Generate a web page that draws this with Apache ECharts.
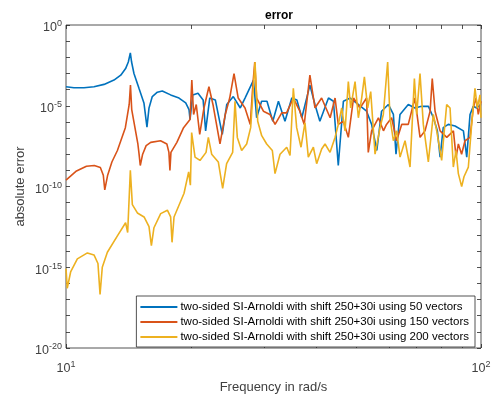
<!DOCTYPE html>
<html>
<head>
<meta charset="utf-8">
<script src="https://cdn.jsdelivr.net/npm/echarts@6/dist/echarts.min.js"></script>
<style>
  html, body { margin: 0; padding: 0; background: #fff; }
  #chart { width: 495px; height: 399px; }
</style>
</head>
<body>
<div id="chart"></div>
<script>
// Absolute error of the reduced models against frequency (rad/s)
const freq50 = [10.0, 10.45, 11.05, 11.68, 12.35, 13.05, 13.55, 13.92, 14.13, 14.29, 14.39, 14.58, 14.99, 15.41, 15.67, 15.85, 16.14, 16.60, 17.06, 17.87, 18.72, 19.43, 19.79, 19.90,
  20.2, 20.8, 21.4, 21.7, 22.2, 22.9, 23.8, 24.4, 25.3, 26.3, 27.0, 28.3, 28.8, 29.6, 30.5, 31.5, 32.5, 33.7, 35.0, 36.0, 37.0, 38.7, 39.8, 40.9, 42.9, 44.1, 45.3, 46.6, 48.4, 50.6, 53.0, 54.5, 56.1, 57.6, 59.8, 61.5, 62.4, 63.8, 66.8, 69.3, 71.9, 74.7, 76.8, 78.5, 79.7, 81.1, 83.4, 86.6, 90.7, 92.4, 94.1, 95.8, 97.6, 100];
const err50 = [1.5e-4, 1.3e-4, 1.3e-4, 1.5e-4, 2.1e-4, 3.9e-4, 7.8e-4, 2.0e-3, 5.1e-3, 1.9e-2, 5.1e-3, 9.9e-4, 1.2e-4, 1.5e-5, 4.8e-7, 7.3e-6, 3.7e-5, 6.9e-5, 8.3e-5, 4.7e-5, 3.0e-5, 1.5e-5, 5.8e-6, 1.4e-6,
  4.7e-5, 6.0e-5, 2.3e-5, 2.8e-7, 3.0e-5, 2.3e-5, 1.7e-7, 1.2e-5, 3.7e-5, 7.3e-6, 3.0e-5, 3.9e-4, 1.8e-6, 1.9e-5, 1.9e-5, 1.1e-6, 1.9e-5, 1.1e-6, 3.0e-5, 2.3e-5, 1.8e-6, 1.9e-4, 1.2e-5, 1.1e-6, 3.0e-5, 1.9e-5, 2.0e-9, 1.9e-5, 3.0e-5, 1.2e-5, 4.6e-6, 7.0e-7, 1.7e-8, 4.6e-6, 1.2e-5, 2.9e-6, 1.0e-8, 2.9e-6, 1.2e-5, 7.3e-6, 9.2e-6, 9.2e-6, 1.8e-6, 2.8e-7, 6.6e-9, 4.4e-7, 7.0e-7, 5.6e-7, 2.8e-7, 6.6e-9, 2.9e-6, 9.2e-6, 7.3e-6, 1.2e-5];

const freq150 = [10.0, 10.6, 11.2, 11.7, 12.1, 12.3, 12.4, 12.6, 12.9, 13.3, 13.9, 14.2, 14.3, 14.4, 14.9, 15.0, 15.1, 15.3, 15.6, 16.0, 16.9, 17.5, 17.7, 17.8, 17.9, 18.5, 19.2, 19.9, 20.1, 20.3, 20.6, 21.0, 21.5, 22.1, 22.6, 23.5, 24.2, 24.8, 25.4, 26.0, 27.0, 27.8, 28.2, 28.5, 28.8, 29.9, 31.0, 31.9, 33.1, 34.0, 35.3, 36.6, 37.5, 38.7, 39.8, 41.3, 43.3, 44.5, 45.3, 46.6, 47.9, 49.3, 51.1, 53.0, 53.5, 54.5, 56.6, 58.2, 59.2, 60.9, 62.6, 64.4, 66.8, 69.3, 71.3, 73.3, 75.4, 76.3, 77.5, 79.7, 82.7, 85.8, 87.1, 88.2, 89.8, 91.5, 94.1, 95.8, 97.3, 98.5, 100];
const err150 = [2.5e-10, 9.2e-10, 1.8e-9, 2.0e-9, 1.5e-9, 5.0e-10, 6.1e-11, 5.0e-10, 3.3e-9, 1.7e-8, 4.4e-7, 1.2e-5, 1.9e-4, 5.8e-6, 4.3e-8, 1.0e-8, 2.0e-9, 1.0e-8, 3.4e-8, 5.4e-8, 6.8e-8, 4.3e-8, 1.3e-8, 1.0e-9, 1.3e-8, 5.4e-8, 4.4e-7, 1.4e-6, 3.9e-4, 2.9e-6, 1.2e-5, 1.7e-7, 7.3e-6, 1.5e-4, 1.2e-5, 4.3e-8, 2.9e-6, 3.0e-5, 9.9e-4, 3.0e-5, 7.3e-6, 7.0e-7, 1.9e-4, 5.1e-3, 3.0e-5, 4.6e-6, 2.9e-6, 7.0e-7, 3.6e-6, 3.6e-6, 3.0e-5, 4.6e-6, 7.0e-7, 7.8e-4, 7.3e-6, 3.0e-5, 1.8e-6, 3.0e-5, 7.0e-7, 1.1e-6, 1.1e-7, 3.0e-5, 7.3e-6, 3.0e-5, 1.3e-8, 2.8e-7, 1.8e-6, 2.8e-7, 7.0e-7, 1.8e-6, 6.8e-8, 7.0e-7, 7.0e-7, 3.0e-5, 1.1e-7, 2.8e-7, 4.6e-6, 4.9e-4, 4.6e-6, 2.8e-7, 1.1e-7, 2.8e-7, 6.6e-9, 4.3e-8, 1.0e-8, 6.8e-8, 1.1e-7, 7.3e-6, 3.0e-5, 2.9e-6, 1.9e-5];

const freq200 = [10.0, 10.07, 10.26, 10.65, 11.26, 11.68, 11.94, 12.08, 12.23, 12.58, 13.30, 13.92, 14.08, 14.29, 14.45, 14.86, 15.42, 15.85, 16.06, 16.29, 16.91, 17.55, 17.87, 18.01, 18.21, 19.25, 19.75, 19.94, 20.08, 20.46, 21.03, 21.75, 22.03, 22.44, 23.28, 23.85, 24.38, 25.21, 25.54, 25.87, 26.50, 27.25, 27.86, 28.54, 28.97, 29.62, 30.45, 31.42, 31.89, 32.79, 34.03, 34.66, 35.30, 35.96, 36.84, 37.66, 38.36, 39.45, 40.18, 41.31, 42.09, 43.28, 44.49, 45.32, 46.17, 47.03, 47.90, 48.53, 49.72, 50.64, 51.58, 52.36, 53.33, 54.23, 55.55, 57.11, 58.16, 59.58, 60.35, 61.50, 62.64, 63.81, 65.61, 67.45, 69.10, 69.98, 71.29, 72.61, 74.66, 76.76, 78.20, 80.39, 82.66, 84.22, 85.77, 87.06, 88.19, 89.83, 90.99, 93.22, 94.95, 96.72, 97.99, 99.45, 100];
const err200 = [8.2e-16, 5.0e-17, 5.1e-16, 3.3e-15, 7.7e-15, 5.8e-15, 1.7e-15, 2.1e-17, 1.0e-15, 8.5e-15, 8.8e-14, 5.7e-13, 1.4e-13, 1.0e-9, 7.5e-12, 2.3e-12, 1.3e-12, 3.3e-13, 2.2e-14, 2.8e-13, 2.1e-12, 3.4e-12, 1.3e-12, 3.5e-14, 1.3e-12, 3.8e-11, 8.0e-10, 1.2e-10, 2.2e-7, 6.6e-9, 4.1e-9, 1.3e-8, 1.1e-7, 1.0e-8, 3.3e-9, 7.7e-11, 2.6e-9, 1.3e-8, 1.9e-5, 1.1e-7, 1.7e-8, 4.3e-8, 4.4e-7, 5.1e-3, 1.1e-6, 1.4e-7, 4.3e-8, 1.7e-8, 6.3e-10, 1.0e-8, 2.7e-8, 8.3e-9, 1.2e-4, 4.4e-7, 2.7e-8, 8.9e-7, 6.6e-9, 2.7e-8, 2.6e-9, 2.1e-8, 4.3e-8, 1.3e-8, 1.1e-7, 7.0e-7, 7.3e-6, 2.8e-7, 3.1e-4, 7.3e-6, 3.1e-4, 1.8e-6, 3.0e-5, 6.2e-4, 7.3e-6, 7.6e-5, 1.0e-8, 4.4e-7, 2.9e-6, 5.1e-3, 1.8e-6, 6.8e-8, 2.8e-7, 6.6e-9, 6.8e-8, 1.6e-9, 4.9e-4, 2.9e-6, 9.9e-4, 7.0e-7, 3.3e-9, 2.9e-6, 2.8e-7, 4.1e-9, 1.2e-5, 7.3e-6, 1.6e-9, 1.7e-8, 6.3e-10, 9.8e-11, 4.0e-10, 1.6e-9, 7.0e-7, 1.2e-4, 7.3e-6, 4.7e-5, 1.8e-6];

const seriesNames = [
  'two-sided SI-Arnoldi with shift 250+30i using 50 vectors',
  'two-sided SI-Arnoldi with shift 250+30i using 150 vectors',
  'two-sided SI-Arnoldi with shift 250+30i using 200 vectors'
];
const seriesColors = ['#0072BD', '#D95319', '#EDB120'];
const xTickValues = [10, 20, 30, 40, 50, 60, 70, 80, 90, 100];
const yTickValues = [1e-20, 1e-19, 1e-18, 1e-17, 1e-16, 1e-15, 1e-14, 1e-13, 1e-12, 1e-11, 1e-10,
  1e-9, 1e-8, 1e-7, 1e-6, 1e-5, 1e-4, 1e-3, 1e-2, 1e-1, 1];

const FONT = '"Liberation Sans", Arial, Helvetica, sans-serif';
const INK = '#262626';
const LABEL_INK = '#404040';

function pairs(xs, ys) { return xs.map((x, i) => [x, ys[i]]); }

// tick labels drawn as 10 with a raised exponent
function powLabel(v) {
  const e = Math.round(Math.log10(v));
  return '{b|10}{s|' + e + '}';
}
const powRich = {
  b: { fontSize: 12.5, fontFamily: FONT, color: LABEL_INK },
  s: { fontSize: 9, fontFamily: FONT, color: LABEL_INK, padding: [0, 0, 8, 0] }
};

const chart = echarts.init(document.getElementById('chart'), null, { renderer: 'canvas' });

const tickLine = { color: INK, width: 0.8 };
const xBase = {
  type: 'log', logBase: 10, min: 10, max: 100, interval: 1,
  axisLine: { show: false },
  splitLine: { show: false },
  axisTick: { show: true, inside: true, length: 4, customValues: xTickValues, lineStyle: tickLine },
  minorTick: { show: false }
};
const yBase = {
  type: 'log', logBase: 10, min: 1e-20, max: 1, interval: 5,
  axisLine: { show: false },
  splitLine: { show: false },
  axisTick: { show: true, inside: true, length: 4, customValues: yTickValues, lineStyle: tickLine },
  minorTick: { show: false }
};

chart.setOption({
  animation: false,
  backgroundColor: '#ffffff',
  title: {
    text: 'error', left: 274, top: 5, textAlign: 'center',
    textStyle: { fontFamily: FONT, fontSize: 12, fontWeight: 'bold', color: '#000' }
  },
  grid: {
    left: 66, right: 14, top: 25, bottom: 45,
    show: true, borderColor: INK, borderWidth: 0.8, backgroundColor: '#fff'
  },
  legend: {
    orient: 'vertical', right: 20, top: 296,
    backgroundColor: '#fff', borderColor: INK, borderWidth: 0.8,
    padding: [5, 6, 4, 4], itemGap: 3, itemWidth: 37, itemHeight: 2,
    icon: 'rect',
    textStyle: { fontFamily: FONT, fontSize: 11.5, color: '#000', padding: [0, 0, 0, -2] },
    data: seriesNames
  },
  xAxis: [
    Object.assign({}, xBase, {
      position: 'bottom',
      name: 'Frequency in rad/s', nameLocation: 'middle', nameGap: 33, nameMoveOverlap: false,
      nameTextStyle: { fontFamily: FONT, fontSize: 13, color: LABEL_INK },
      axisLabel: { show: true, margin: 12, formatter: powLabel, rich: powRich }
    }),
    Object.assign({}, xBase, { position: 'top', axisLabel: { show: false } })
  ],
  yAxis: [
    Object.assign({}, yBase, {
      position: 'left',
      name: 'absolute error', nameLocation: 'middle', nameGap: 39, nameMoveOverlap: false,
      nameTextStyle: { fontFamily: FONT, fontSize: 13, color: LABEL_INK },
      axisLabel: { show: true, margin: 4, padding: [6, 0, 0, 0], formatter: powLabel, rich: powRich }
    }),
    Object.assign({}, yBase, { position: 'right', axisLabel: { show: false } })
  ],
  series: [
    pairs(freq50, err50),
    pairs(freq150, err150),
    pairs(freq200, err200)
  ].map((data, i) => ({
    type: 'line',
    name: seriesNames[i],
    data: data,
    xAxisIndex: 0, yAxisIndex: 0,
    symbol: 'none', smooth: false,
    lineStyle: { color: seriesColors[i], width: 1.6 },
    itemStyle: { color: seriesColors[i] },
    emphasis: { disabled: true }
  }))
});
</script>
</body>
</html>
